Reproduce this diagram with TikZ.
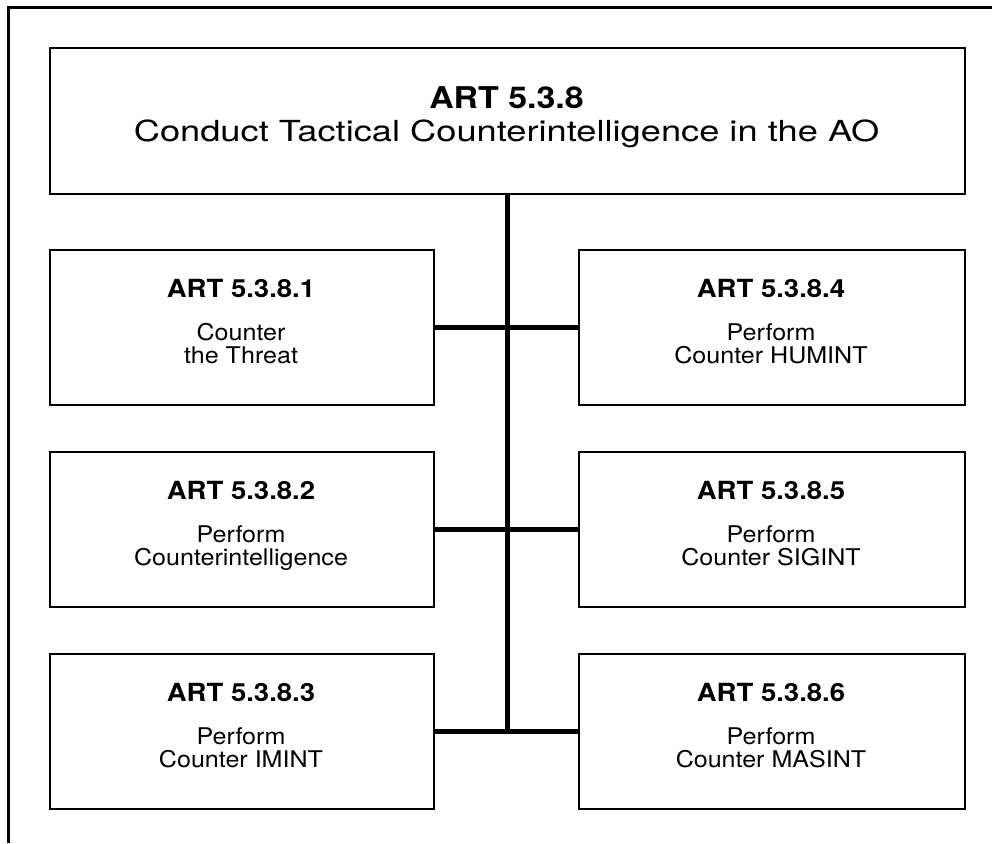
\documentclass[tikz,border=0pt]{standalone}
\usepackage{fontspec}
\setmainfont{TeX Gyre Heros}
\usepackage{graphicx}
\newcommand\arthead[1]{\scalebox{1.13}[1]{\fontsize{30}{32}\selectfont\bfseries #1}}
\newcommand\artsub[1]{\scalebox{1.25}[1]{\fontsize{29}{31}\selectfont #1}}
\newcommand\arttitle[1]{\scalebox{1.1}[1]{\fontsize{25}{27}\selectfont\bfseries #1}}
\newcommand\artline[1]{\scalebox{1.09}[1]{\fontsize{23}{25}\selectfont #1}}
\begin{document}
\begin{tikzpicture}[x=1pt,y=-1pt,
  box/.style={draw, line width=2pt, inner sep=0pt, anchor=north west, minimum width=384pt, minimum height=155pt},
  topbox/.style={draw, line width=2pt, inner sep=0pt, anchor=north west, minimum width=915pt, minimum height=146pt},
  txt/.style={anchor=base, inner sep=0pt},
  bus/.style={line width=5pt}]
\useasboundingbox (0,0) rectangle (992,843);
% frame
\draw[line width=2.2pt] (8.5,843) -- (8.5,7.5) -- (992,7.5);
% boxes
\node[topbox] (top) at (49,47) {};
\node[box] (b1) at (49,249) {};
\node[box] (b2) at (49,451) {};
\node[box] (b3) at (49,653) {};
\node[box, minimum width=386pt] (b4) at (578,249) {};
\node[box, minimum width=386pt] (b5) at (578,451) {};
\node[box, minimum width=386pt] (b6) at (578,653) {};
% connectors
\coordinate (busend) at (top.south |- b3.east);
\draw[bus] (top.south) -- (busend);
\draw[bus] (b1.east) -- (b4.west);
\draw[bus] (b2.east) -- (b5.west);
\draw[bus] (b3.east) -- (b6.west);
% texts
\node[txt] (t0a) at (506.5,108) {\arthead{ART 5.3.8}};
\node[txt] (t0b) at (506.5,141) {\artsub{Conduct Tactical Counterintelligence in the AO}};
\node[txt] (t1a) at (241,297) {\arttitle{ART 5.3.8.1}};
\node[txt] (t1b) at (241,340) {\artline{Counter}};
\node[txt] (t1c) at (241,363) {\artline{the Threat}};
\node[txt] (t2a) at (241,499) {\arttitle{ART 5.3.8.2}};
\node[txt] (t2b) at (241,542) {\artline{Perform}};
\node[txt] (t2c) at (241,565) {\artline{Counterintelligence}};
\node[txt] (t3a) at (241,701) {\arttitle{ART 5.3.8.3}};
\node[txt] (t3b) at (241,744) {\artline{Perform}};
\node[txt] (t3c) at (241,767) {\artline{Counter IMINT}};
\node[txt] (t4a) at (771,297) {\arttitle{ART 5.3.8.4}};
\node[txt] (t4b) at (771,340) {\artline{Perform}};
\node[txt] (t4c) at (771,363) {\artline{Counter HUMINT}};
\node[txt] (t5a) at (771,499) {\arttitle{ART 5.3.8.5}};
\node[txt] (t5b) at (771,542) {\artline{Perform}};
\node[txt] (t5c) at (771,565) {\artline{Counter SIGINT}};
\node[txt] (t6a) at (771,701) {\arttitle{ART 5.3.8.6}};
\node[txt] (t6b) at (771,744) {\artline{Perform}};
\node[txt] (t6c) at (771,767) {\artline{Counter MASINT}};
\end{tikzpicture}
\end{document}
